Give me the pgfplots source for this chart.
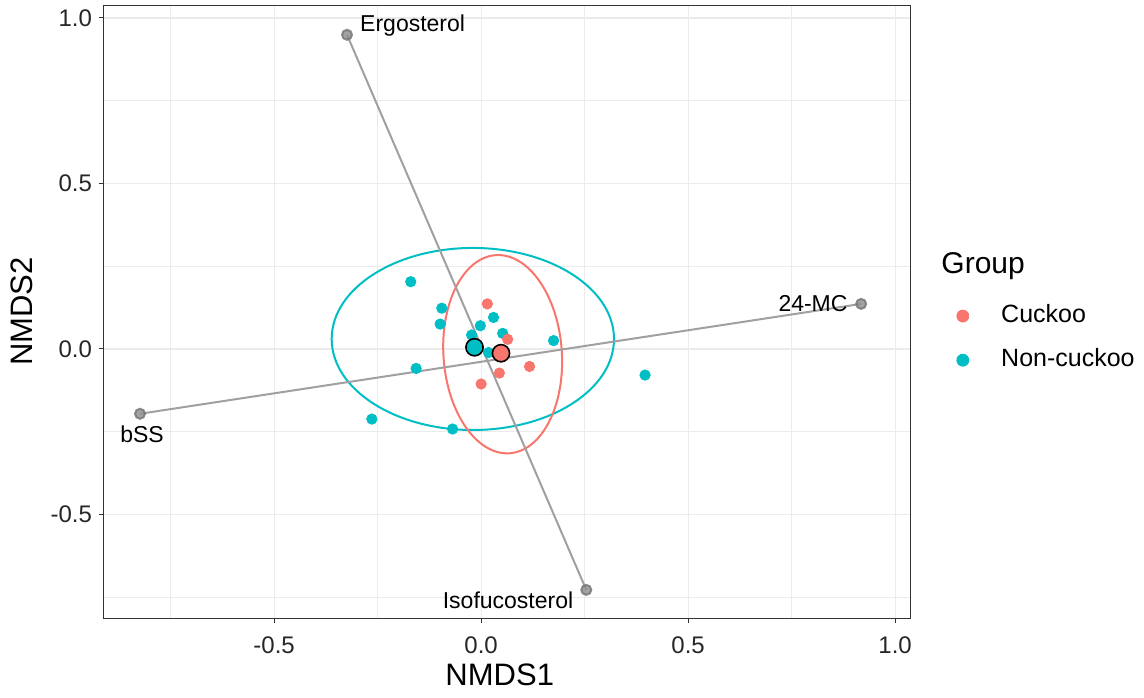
\documentclass[border=0pt]{standalone}
\usepackage{pgfplots}
\pgfplotsset{compat=1.18}
\usepackage{fontspec}
\setmainfont{Liberation Sans}
\definecolor{cuckoo}{HTML}{F8766D}
\definecolor{noncuckoo}{HTML}{00BFC4}
\definecolor{gridc}{HTML}{EBEBEB}
\definecolor{border}{HTML}{333333}
\definecolor{vecc}{HTML}{A0A0A0}
\begin{document}
\begin{tikzpicture}
\path[use as bounding box] (-52pt,-39.5pt) rectangle (520pt,309pt);
\begin{axis}[
  at={(0,0)}, anchor=south west, scale only axis,
  width=403pt, height=306.5pt,
  xmin=-0.911, xmax=1.036, ymin=-0.813, ymax=1.039,
  xtick={-0.5,0,0.5,1}, ytick={-0.5,0,0.5,1},
  xticklabels={-0.5,0.0,0.5,1.0}, yticklabels={-0.5,0.0,0.5,1.0},
  minor xtick={-0.75,-0.25,0.25,0.75}, minor ytick={-0.75,-0.25,0.25,0.75},
  grid=both,
  major grid style={color=gridc, line width=0.6pt},
  minor grid style={color=gridc, line width=0.3pt},
  axis line style={border, line width=0.5pt},
  tick align=outside, tick pos=left,
  major tick length=2.5pt, minor tick length=0pt,
  tick style={border, line width=0.5pt},
  ticklabel style={font=\fontsize{12}{14}\selectfont, text=black!85},
  xticklabel style={yshift=-3.5pt},
  xlabel={NMDS1}, ylabel={NMDS2},
  label style={font=\fontsize{15.5}{18}\selectfont},
  xlabel style={at={(axis description cs:0.491,-0.1093)}, anchor=base},
  ylabel style={at={(axis description cs:-0.0881,0.5)}, anchor=base, rotate=0},
  clip=false,
  legend style={at={(axis description cs:1.0571,0.512)}, anchor=north west,
    draw=none, fill=none, inner sep=0pt, row sep=11.5pt, column sep=16pt,
    font=\fontsize{12.5}{15}\selectfont,
    nodes={inner sep=0pt, anchor=base west}},
  legend cell align=left,
  legend image code/.code={\fill[#1] (3pt,0.33em) circle (3pt);},
]
\addlegendimage{cuckoo}
\addlegendentry{Cuckoo}
\addlegendimage{noncuckoo}
\addlegendentry{Non-cuckoo}

% ellipses
\draw[noncuckoo, line width=1pt] (axis cs:-0.020,0.030) ellipse [x radius=0.341, y radius=0.275];
\draw[cuckoo, line width=1pt, rotate around={4:(axis cs:0.052,-0.016)}] (axis cs:0.052,-0.016) ellipse [x radius=0.143, y radius=0.300];

% samples
\addplot[only marks, mark=*, mark size=2.6pt, color=noncuckoo, forget plot] coordinates {
(-0.170,0.203) (-0.095,0.123) (-0.099,0.075) (-0.002,0.070) (0.030,0.095)
(-0.023,0.042) (0.052,0.047) (0.018,-0.011) (0.175,0.025) (-0.157,-0.059)
(0.396,-0.079) (-0.264,-0.212) (-0.069,-0.242)
};
\addplot[only marks, mark=*, mark size=2.6pt, color=cuckoo, forget plot] coordinates {
(0.015,0.136) (0.064,0.029) (0.117,-0.053) (0.044,-0.073) (0.000,-0.106)
};

% vectors
\addplot[vecc, line width=1pt, mark=*, mark size=2.5pt, mark options={fill=black!45, draw=black!55, opacity=0.8}, forget plot] coordinates {(-0.324,0.949) (0.254,-0.728)};
\addplot[vecc, line width=1pt, mark=*, mark size=2.5pt, mark options={fill=black!45, draw=black!55, opacity=0.8}, forget plot] coordinates {(-0.824,-0.196) (0.918,0.136)};

% centroids
\addplot[only marks, mark=*, mark size=4.3pt, mark options={fill=noncuckoo, draw=black, line width=0.8pt}, forget plot] coordinates {(-0.016,0.005)};
\addplot[only marks, mark=*, mark size=4.3pt, mark options={fill=cuckoo, draw=black, line width=0.8pt}, forget plot] coordinates {(0.048,-0.013)};

% labels
\node[anchor=mid west, inner sep=0pt, font=\fontsize{11.5}{14}\selectfont] at (axis cs:-0.293,0.976) {Ergosterol};
\node[anchor=mid, inner sep=0pt, font=\fontsize{11.5}{14}\selectfont] at (axis cs:0.065,-0.767) {Isofucosterol};
\node[anchor=mid, inner sep=0pt, font=\fontsize{11.5}{14}\selectfont] at (axis cs:-0.819,-0.266) {bSS};
\node[anchor=mid east, inner sep=0pt, font=\fontsize{11.5}{14}\selectfont] at (axis cs:0.886,0.130) {24-MC};

\node[anchor=mid west, inner sep=0pt, font=\fontsize{15}{18}\selectfont] at (axis description cs:1.0385,0.571) {Group};
\end{axis}
\end{tikzpicture}
\end{document}
